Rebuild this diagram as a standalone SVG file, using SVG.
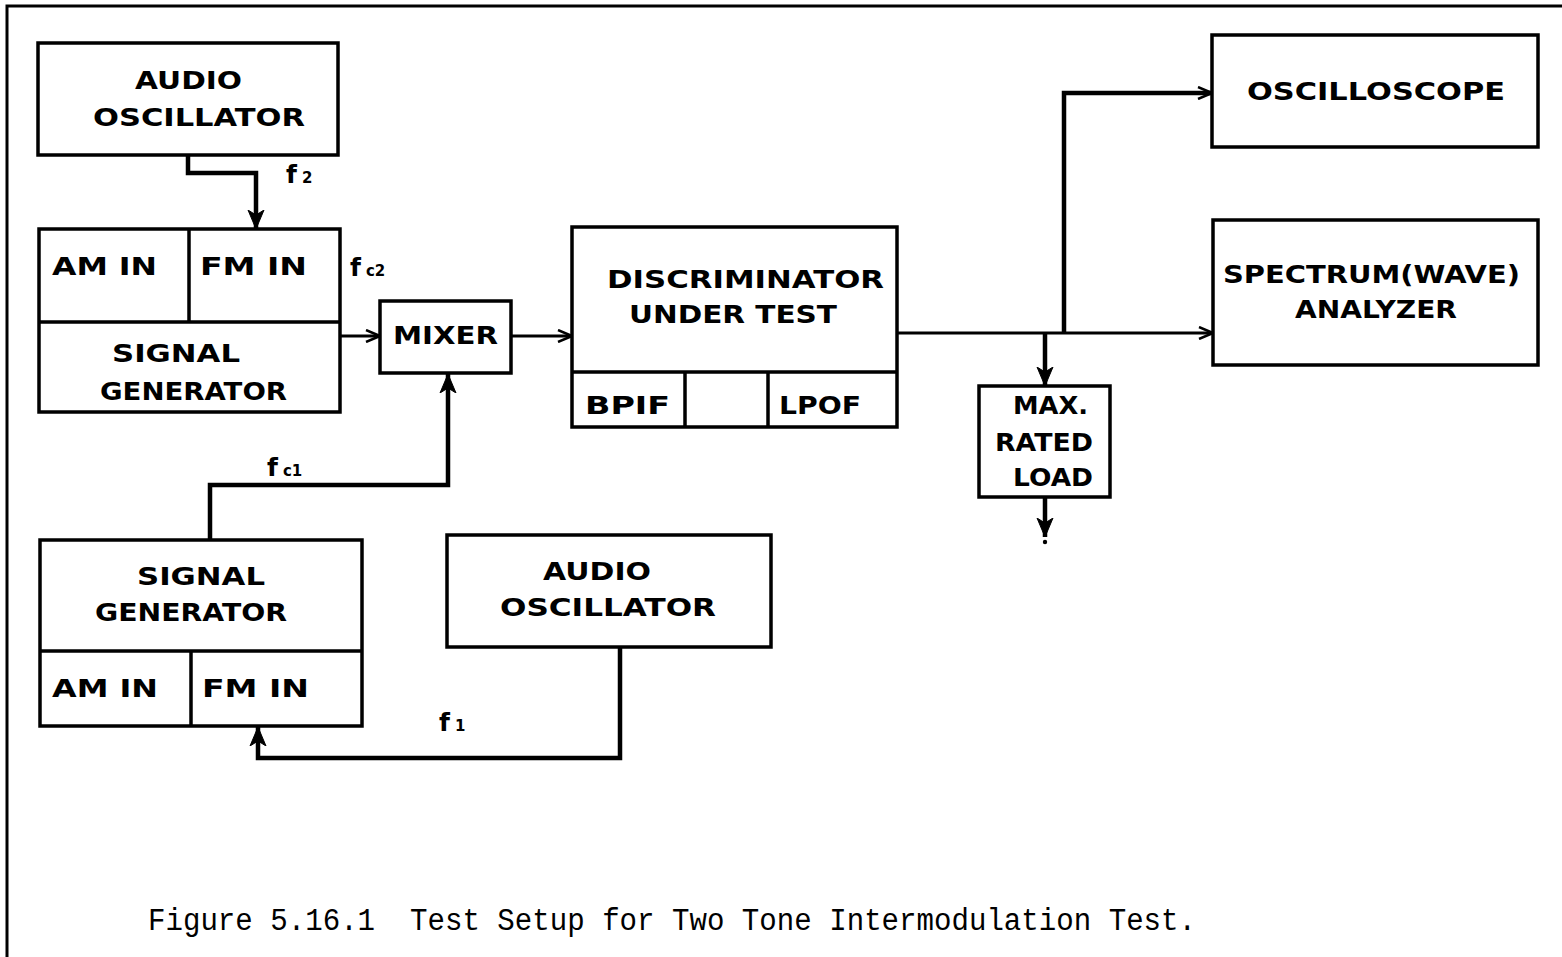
<svg xmlns="http://www.w3.org/2000/svg" width="1562" height="957" viewBox="0 0 1562 957">
<style>
.box{fill:none;stroke:#000;stroke-width:3.5}
.div{fill:none;stroke:#000;stroke-width:3.5}
.wire{fill:none;stroke:#000;stroke-width:3}
.thick{fill:none;stroke:#000;stroke-width:4.5}
.t{font-family:"DejaVu Sans","Liberation Sans",sans-serif;font-weight:bold;font-size:25px;fill:#000}
.f{font-family:"DejaVu Sans","Liberation Sans",sans-serif;font-weight:bold;font-size:25px;fill:#000}
.sub{font-size:15px}
.cap{font-family:"Liberation Mono","DejaVu Sans Mono",monospace;font-size:31px;fill:#000}
</style>
<defs>
<marker id="open" markerWidth="16" markerHeight="14" refX="15" refY="7" orient="auto" markerUnits="userSpaceOnUse">
<path d="M1,1 L15,7 L1,13" fill="none" stroke="#000" stroke-width="2.5"/>
</marker>
<marker id="solid" markerWidth="20" markerHeight="18" refX="19" refY="9" orient="auto" markerUnits="userSpaceOnUse">
<path d="M0,1 L19,9 L0,17 L5,9 Z" fill="#000" stroke="#000" stroke-width="1"/>
</marker>
</defs>
<rect width="1562" height="957" fill="#fff"/>
<g id="frame"><path d="M7,957 L7,6 L1562,6" fill="none" stroke="#000" stroke-width="3"/></g>

<g id="connectors">
<path class="thick" d="M188,155 L188,173 L256,173 L256,229" marker-end="url(#solid)"/>
<path class="wire" d="M341,336 L380,336" marker-end="url(#open)"/>
<path class="wire" d="M511,336 L572,336" marker-end="url(#open)"/>
<path class="thick" d="M210,540 L210,485 L448,485 L448,374" marker-end="url(#solid)"/>
<path class="thick" d="M620,647 L620,758 L258,758 L258,727" marker-end="url(#solid)"/>
<path class="wire" d="M897,333 L1213,333" marker-end="url(#open)"/>
<path class="thick" d="M1064,333 L1064,93 L1212,93" marker-end="url(#open)"/>
<path class="thick" d="M1045,333 L1045,386" marker-end="url(#solid)"/>
<path class="thick" d="M1045,497 L1045,537" marker-end="url(#solid)"/>
<circle cx="1045" cy="542" r="2.2" fill="#000"/>
<text class="f" x="286" y="183">f<tspan class="sub" dx="5">2</tspan></text>
<text class="f" x="350" y="276">f<tspan class="sub" dx="5">c2</tspan></text>
<text class="f" x="267" y="476">f<tspan class="sub" dx="5">c1</tspan></text>
<text class="f" x="439" y="731">f<tspan class="sub" dx="5">1</tspan></text>
</g>

<g id="audio_osc_1">
<rect class="box" x="38" y="43" width="300" height="112"/>
<text class="t" x="135" y="89" textLength="107" lengthAdjust="spacingAndGlyphs">AUDIO</text>
<text class="t" x="93" y="126" textLength="212" lengthAdjust="spacingAndGlyphs">OSCILLATOR</text>
</g>

<g id="signal_gen_1">
<rect class="box" x="39" y="229" width="301" height="183"/>
<path class="div" d="M39,322 L340,322 M189,229 L189,322"/>
<text class="t" x="52" y="275" textLength="105" lengthAdjust="spacingAndGlyphs">AM IN</text>
<text class="t" x="200" y="275" textLength="107" lengthAdjust="spacingAndGlyphs">FM IN</text>
<text class="t" x="112" y="362" textLength="128" lengthAdjust="spacingAndGlyphs">SIGNAL</text>
<text class="t" x="100" y="400" textLength="187" lengthAdjust="spacingAndGlyphs">GENERATOR</text>
</g>

<g id="mixer">
<rect class="box" x="380" y="301" width="131" height="72"/>
<text class="t" x="393" y="344" textLength="105" lengthAdjust="spacingAndGlyphs">MIXER</text>
</g>

<g id="discriminator">
<rect class="box" x="572" y="227" width="325" height="200"/>
<path class="div" d="M572,372 L897,372 M685,372 L685,427 M768,372 L768,427"/>
<text class="t" x="607" y="288" textLength="277" lengthAdjust="spacingAndGlyphs">DISCRIMINATOR</text>
<text class="t" x="629" y="323" textLength="208" lengthAdjust="spacingAndGlyphs">UNDER TEST</text>
<text class="t" x="585" y="414" textLength="85" lengthAdjust="spacingAndGlyphs">BPIF</text>
<text class="t" x="779" y="414" textLength="82" lengthAdjust="spacingAndGlyphs">LPOF</text>
</g>

<g id="load">
<rect class="box" x="979" y="386" width="131" height="111"/>
<text class="t" x="1013" y="414" textLength="75" lengthAdjust="spacingAndGlyphs">MAX.</text>
<text class="t" x="995" y="451" textLength="98" lengthAdjust="spacingAndGlyphs">RATED</text>
<text class="t" x="1013" y="486" textLength="80" lengthAdjust="spacingAndGlyphs">LOAD</text>
</g>

<g id="oscilloscope">
<rect class="box" x="1212" y="35" width="326" height="112"/>
<text class="t" x="1247" y="100" textLength="258" lengthAdjust="spacingAndGlyphs">OSCILLOSCOPE</text>
</g>

<g id="spectrum">
<rect class="box" x="1213" y="220" width="325" height="145"/>
<text class="t" x="1223" y="283" textLength="297" lengthAdjust="spacingAndGlyphs">SPECTRUM(WAVE)</text>
<text class="t" x="1295" y="318" textLength="162" lengthAdjust="spacingAndGlyphs">ANALYZER</text>
</g>

<g id="signal_gen_2">
<rect class="box" x="40" y="540" width="322" height="186"/>
<path class="div" d="M40,651 L362,651 M191,651 L191,726"/>
<text class="t" x="137" y="585" textLength="128" lengthAdjust="spacingAndGlyphs">SIGNAL</text>
<text class="t" x="95" y="621" textLength="192" lengthAdjust="spacingAndGlyphs">GENERATOR</text>
<text class="t" x="52" y="697" textLength="106" lengthAdjust="spacingAndGlyphs">AM IN</text>
<text class="t" x="202" y="697" textLength="107" lengthAdjust="spacingAndGlyphs">FM IN</text>
</g>

<g id="audio_osc_2">
<rect class="box" x="447" y="535" width="324" height="112"/>
<text class="t" x="543" y="580" textLength="108" lengthAdjust="spacingAndGlyphs">AUDIO</text>
<text class="t" x="500" y="616" textLength="216" lengthAdjust="spacingAndGlyphs">OSCILLATOR</text>
</g>

<g id="caption">
<text class="cap" x="148" y="930" xml:space="preserve" textLength="1048" lengthAdjust="spacingAndGlyphs">Figure 5.16.1  Test Setup for Two Tone Intermodulation Test.</text>
</g>
</svg>
